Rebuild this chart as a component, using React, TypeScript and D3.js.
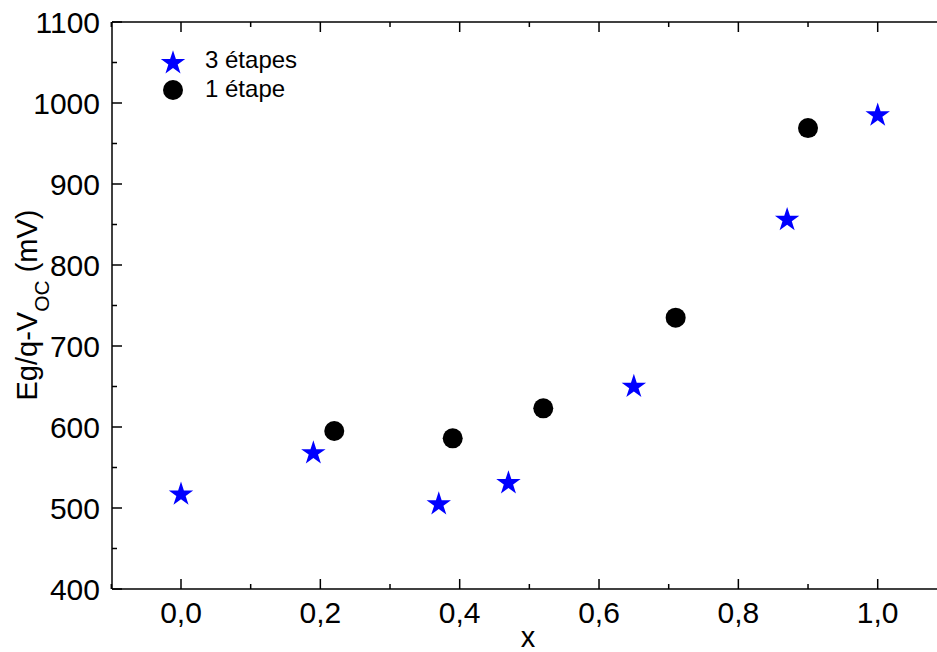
import React from "react";
import * as d3 from "d3";

const starX = [0.0, 0.19, 0.37, 0.47, 0.65, 0.87, 1.0];
const starY = [518, 569, 506, 532, 651, 857, 986];
const circX = [0.22, 0.39, 0.52, 0.71, 0.9];
const circY = [595, 586, 623, 735, 969];
const xMajor = [0, 0.2, 0.4, 0.6, 0.8, 1.0];
const xMinor = [-0.1, 0.1, 0.3, 0.5, 0.7, 0.9, 1.1];
const yMajor = [400, 500, 600, 700, 800, 900, 1000, 1100];
const yMinor = [450, 550, 650, 750, 850, 950, 1050];
const legendLabels = ["3 étapes", "1 étape"];

const W = 937, H = 652;
const L = 112, T = 22, B = 589;

export default function App() {
  const x = d3.scaleLinear().domain([0, 1]).range([181, 877.7]);
  const y = d3.scaleLinear().domain([400, 1100]).range([B, T]);
  const R = x(1.1);
  const star = d3.symbol().type(d3.symbolStar).size(185)()!;
  const fmt = (v: number) => v.toFixed(1).replace(".", ",");
  const font = "'Liberation Sans', Arial, sans-serif";
  return (
    <svg width={W} height={H} style={{ position: "absolute", left: 0, top: 0, background: "#fff" }} fontFamily={font}>
      <rect width={W} height={H} fill="#fff" />
      <g stroke="#000" strokeWidth={1.5} fill="none">
        <line x1={L} y1={B} x2={R} y2={B} />
        <line x1={L} y1={T} x2={R} y2={T} />
        <line x1={L} y1={T} x2={L} y2={B} />
        {xMajor.map((v) => (
          <g key={"xM" + v}>
            <line x1={x(v)} x2={x(v)} y1={B} y2={B - 10} />
            <line x1={x(v)} x2={x(v)} y1={T} y2={T + 10} />
          </g>
        ))}
        {xMinor.map((v) => (
          <g key={"xm" + v}>
            <line x1={x(v)} x2={x(v)} y1={B} y2={B - 5} />
            <line x1={x(v)} x2={x(v)} y1={T} y2={T + 5} />
          </g>
        ))}
        {yMajor.map((v) => (
          <line key={"yM" + v} x1={L} x2={L + 10} y1={y(v)} y2={y(v)} />
        ))}
        {yMinor.map((v) => (
          <line key={"ym" + v} x1={L} x2={L + 5} y1={y(v)} y2={y(v)} />
        ))}
      </g>
      {yMajor.map((v) => (
        <text key={"yl" + v} x={100} y={y(v)} dy="0.36em" textAnchor="end" fontSize={30} fill="#000">
          {v}
        </text>
      ))}
      {xMajor.map((v) => (
        <text key={"xl" + v} x={x(v)} y={623} textAnchor="middle" fontSize={30} fill="#000">
          {fmt(v)}
        </text>
      ))}
      <text x={528} y={647} textAnchor="middle" fontSize={29} fill="#000">x</text>
      <text transform={`translate(37,305) rotate(-90)`} textAnchor="middle" fontSize={29} fill="#000">
        Eg/q-V<tspan baselineShift="sub" fontSize={21}>OC</tspan> (mV)
      </text>
      {circX.map((v, i) => (
        <circle key={"c" + i} cx={x(v)} cy={y(circY[i])} r={10} fill="#000" />
      ))}
      {starX.map((v, i) => (
        <path key={"s" + i} d={star} transform={`translate(${x(v)},${y(starY[i]) + 1})`} fill="#0000ff" />
      ))}
      <path d={star} transform="translate(173,63)" fill="#0000ff" />
      <circle cx={173} cy={90} r={10} fill="#000" />
      <text x={205} y={68} fontSize={24} fill="#000">{legendLabels[0]}</text>
      <text x={205} y={97} fontSize={24} fill="#000">{legendLabels[1]}</text>
    </svg>
  );
}
